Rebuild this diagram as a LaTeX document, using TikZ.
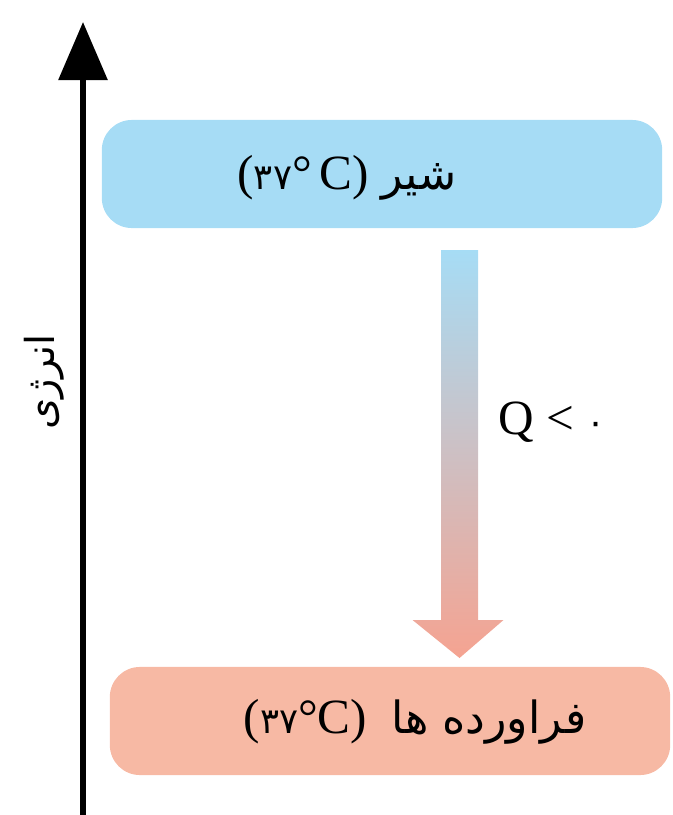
\documentclass[tikz,border=0pt]{standalone}
\usepackage{fontspec}
\setmainfont{Liberation Serif}
\newfontfamily\persianfont[Script=Arabic,Scale=0.84]{DejaVu Sans}
\TeXXeTstate=1
\usetikzlibrary{arrows.meta,calc,positioning}
\definecolor{milkblue}{RGB}{166,220,245}
\definecolor{prodsalmon}{RGB}{247,185,164}
\definecolor{heatpink}{RGB}{245,163,145}
\definecolor{heatmid}{RGB}{200,180,200}
\newcommand{\fadigits}[1]{{\persianfont\fontsize{12}{14}\selectfont #1}}

\begin{document}
\begin{tikzpicture}[x=0.01cm,y=-0.01cm,font=\fontsize{14}{17}\selectfont,
  level/.style={rounded corners=0.3cm,minimum height=1.08cm,minimum width=5.6cm,inner sep=0pt},
  faword/.style={font=\persianfont\fontsize{15}{18}\selectfont}]
  \useasboundingbox (0,0) rectangle (672,815);

  % energy axis
  \coordinate (axbot) at (83,815);
  \coordinate (axtop) at (83,22);
  \draw[line width=0.06cm,-{Triangle[length=0.58cm,width=0.48cm]}] (axbot) -- (axtop);
  \node[rotate=90,font=\persianfont\fontsize{13.5}{16}\selectfont] (energy) at (44,382) {\beginR انرژی\endR};

  % levels
  \node[level,fill=milkblue] (milk) at (382,174) {};
  \node[level,fill=prodsalmon] (prod) at (390,721) {};
  \node (milktxt) at ($(milk.center)+(-35,4)$) {(\fadigits{۳۷}°\,C)\ {\persianfont\fontsize{15}{18}\selectfont\beginR شیر\endR}};
  \node (prodtxt) at ($(prod.center)+(25,1)$) {(\fadigits{۳۷}°C)\hspace{0.5em}{\persianfont\fontsize{15}{18}\selectfont\beginR فراورده ها\endR}};

  % heat released
  \coordinate (qtop) at (459.5,250);
  \coordinate (qtip) at (459.5,658);
  \shade[top color=milkblue,middle color=heatmid,bottom color=heatpink]
    ($(qtop)+(-18.5,0)$) -- ($(qtop)+(18.5,0)$) -- ($(qtip)+(18.5,-38)$) -- ($(qtip)+(44,-38)$)
    -- (qtip) -- ($(qtip)+(-47,-38)$) -- ($(qtip)+(-18.5,-38)$) -- cycle;
  \node (qlabel) at (552,422) {Q < \fadigits{۰}};
\end{tikzpicture}
\end{document}
